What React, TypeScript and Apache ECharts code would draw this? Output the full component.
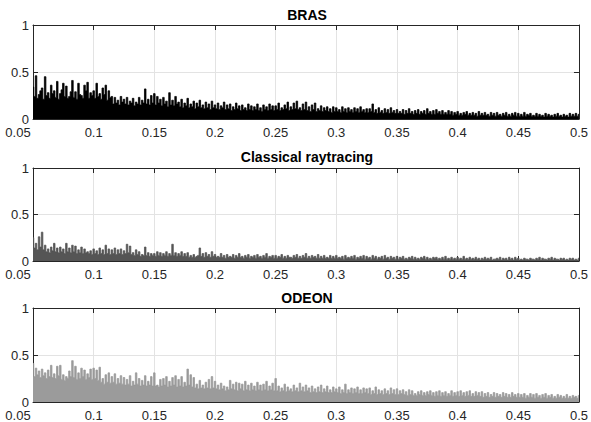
import React, { useEffect, useRef } from "react";
import * as echarts from "echarts";

const T0 = 0.05;
const DT = 0.00125;
const X_MIN = 0.05;
const X_MAX = 0.5;
const X_STEP = 0.05;
const Y_MIN = 0;
const Y_MAX = 1;
const Y_STEP = 0.5;

const titles = ["BRAS", "Classical raytracing", "ODEON"];
const colors = ["#000000", "#555555", "#9b9b9b"];

const brasValues = [
  0.34, 0.24, 0.46, 0.22, 0.26, 0.30, 0.33, 0.21, 0.45, 0.25, 0.28, 0.22, 0.36, 0.27, 0.30, 0.23, 0.40, 0.21, 0.27, 0.31,
  0.38, 0.24, 0.35, 0.22, 0.24, 0.29, 0.41, 0.23, 0.29, 0.21, 0.38, 0.26, 0.25, 0.22, 0.36, 0.30, 0.39, 0.22, 0.28, 0.25,
  0.30, 0.22, 0.38, 0.24, 0.27, 0.21, 0.33, 0.26, 0.36, 0.20, 0.30, 0.23, 0.24, 0.16, 0.23, 0.17, 0.20, 0.15, 0.24, 0.18,
  0.21, 0.16, 0.23, 0.15, 0.19, 0.17, 0.22, 0.14, 0.18, 0.16, 0.23, 0.15, 0.20, 0.17, 0.32, 0.16, 0.21, 0.15, 0.25, 0.17,
  0.27, 0.15, 0.24, 0.17, 0.21, 0.14, 0.23, 0.16, 0.19, 0.13, 0.28, 0.15, 0.20, 0.14, 0.24, 0.16, 0.18, 0.13, 0.21, 0.12,
  0.17, 0.14, 0.22, 0.12, 0.16, 0.13, 0.19, 0.11, 0.17, 0.13, 0.20, 0.12, 0.15, 0.11, 0.18, 0.12, 0.16, 0.10, 0.19, 0.12,
  0.15, 0.11, 0.17, 0.10, 0.14, 0.12, 0.18, 0.10, 0.15, 0.11, 0.16, 0.09, 0.13, 0.10, 0.17, 0.11, 0.14, 0.09, 0.15, 0.10,
  0.12, 0.09, 0.16, 0.10, 0.14, 0.09, 0.13, 0.10, 0.16, 0.09, 0.12, 0.08, 0.15, 0.10, 0.13, 0.09, 0.16, 0.10, 0.14, 0.09,
  0.14, 0.10, 0.17, 0.09, 0.12, 0.10, 0.15, 0.11, 0.18, 0.09, 0.13, 0.10, 0.17, 0.11, 0.19, 0.10, 0.12, 0.09, 0.16, 0.10,
  0.18, 0.09, 0.13, 0.08, 0.15, 0.10, 0.17, 0.08, 0.11, 0.09, 0.14, 0.08, 0.12, 0.09, 0.13, 0.08, 0.11, 0.07, 0.13, 0.08,
  0.12, 0.08, 0.10, 0.07, 0.13, 0.08, 0.11, 0.07, 0.12, 0.08, 0.10, 0.07, 0.12, 0.08, 0.11, 0.07, 0.13, 0.08, 0.10, 0.07,
  0.11, 0.07, 0.11, 0.08, 0.16, 0.07, 0.10, 0.06, 0.12, 0.07, 0.09, 0.06, 0.11, 0.07, 0.10, 0.06, 0.12, 0.07, 0.09, 0.06,
  0.10, 0.06, 0.08, 0.06, 0.10, 0.05, 0.09, 0.06, 0.11, 0.06, 0.08, 0.05, 0.09, 0.06, 0.10, 0.05, 0.08, 0.06, 0.09, 0.05,
  0.11, 0.06, 0.08, 0.05, 0.09, 0.05, 0.10, 0.06, 0.08, 0.05, 0.09, 0.05, 0.07, 0.05, 0.09, 0.05, 0.08, 0.04, 0.07, 0.05,
  0.08, 0.04, 0.06, 0.04, 0.07, 0.05, 0.08, 0.04, 0.06, 0.04, 0.07, 0.04, 0.06, 0.03, 0.08, 0.04, 0.06, 0.04, 0.07, 0.04,
  0.05, 0.03, 0.07, 0.04, 0.06, 0.03, 0.07, 0.04, 0.05, 0.03, 0.06, 0.04, 0.07, 0.03, 0.05, 0.03, 0.06, 0.04, 0.07, 0.03,
  0.06, 0.03, 0.05, 0.03, 0.07, 0.03, 0.05, 0.04, 0.06, 0.03, 0.04, 0.03, 0.06, 0.03, 0.05, 0.03, 0.04, 0.02, 0.06, 0.03,
  0.05, 0.03, 0.04, 0.02, 0.05, 0.03, 0.06, 0.03, 0.04, 0.02, 0.05, 0.03, 0.04, 0.02, 0.06, 0.03, 0.05, 0.03, 0.06, 0.03,
  0.05,
];

const classicalValues = [
  0.25, 0.14, 0.19, 0.12, 0.26, 0.15, 0.31, 0.12, 0.17, 0.10, 0.13, 0.09, 0.15, 0.11, 0.19, 0.10, 0.14, 0.09, 0.15, 0.10,
  0.13, 0.08, 0.19, 0.10, 0.14, 0.09, 0.17, 0.10, 0.16, 0.08, 0.12, 0.09, 0.15, 0.08, 0.13, 0.09, 0.10, 0.08, 0.11, 0.07,
  0.13, 0.08, 0.11, 0.07, 0.14, 0.08, 0.12, 0.07, 0.17, 0.08, 0.13, 0.07, 0.12, 0.08, 0.14, 0.07, 0.12, 0.08, 0.13, 0.07,
  0.11, 0.08, 0.18, 0.09, 0.16, 0.07, 0.09, 0.06, 0.12, 0.07, 0.10, 0.05, 0.07, 0.06, 0.15, 0.06, 0.09, 0.05, 0.08, 0.06,
  0.08, 0.05, 0.10, 0.06, 0.09, 0.05, 0.08, 0.06, 0.10, 0.05, 0.08, 0.06, 0.18, 0.06, 0.09, 0.05, 0.08, 0.06, 0.10, 0.05,
  0.08, 0.05, 0.09, 0.04, 0.06, 0.04, 0.07, 0.04, 0.05, 0.06, 0.14, 0.05, 0.08, 0.04, 0.09, 0.05, 0.07, 0.04, 0.10, 0.05,
  0.07, 0.04, 0.05, 0.04, 0.08, 0.04, 0.06, 0.03, 0.07, 0.04, 0.05, 0.04, 0.07, 0.03, 0.06, 0.04, 0.08, 0.04, 0.05, 0.03,
  0.06, 0.04, 0.07, 0.03, 0.05, 0.04, 0.06, 0.03, 0.07, 0.04, 0.05, 0.03, 0.06, 0.04, 0.08, 0.03, 0.05, 0.04, 0.06, 0.03,
  0.06, 0.03, 0.05, 0.04, 0.07, 0.03, 0.05, 0.03, 0.06, 0.04, 0.04, 0.03, 0.06, 0.04, 0.07, 0.03, 0.05, 0.03, 0.06, 0.04,
  0.08, 0.03, 0.05, 0.03, 0.06, 0.04, 0.05, 0.03, 0.07, 0.03, 0.05, 0.03, 0.06, 0.03, 0.04, 0.03, 0.06, 0.03, 0.05, 0.03,
  0.06, 0.03, 0.04, 0.03, 0.05, 0.02, 0.06, 0.03, 0.04, 0.03, 0.05, 0.03, 0.06, 0.02, 0.04, 0.03, 0.05, 0.03, 0.06, 0.02,
  0.05, 0.03, 0.04, 0.02, 0.06, 0.03, 0.05, 0.02, 0.04, 0.03, 0.05, 0.02, 0.06, 0.03, 0.04, 0.02, 0.05, 0.03, 0.04, 0.02,
  0.05, 0.02, 0.04, 0.03, 0.05, 0.02, 0.03, 0.02, 0.04, 0.03, 0.05, 0.02, 0.04, 0.02, 0.03, 0.02, 0.04, 0.03, 0.05, 0.02,
  0.04, 0.02, 0.03, 0.02, 0.04, 0.03, 0.04, 0.02, 0.03, 0.02, 0.04, 0.02, 0.05, 0.02, 0.03, 0.02, 0.04, 0.02, 0.03, 0.02,
  0.04, 0.02, 0.03, 0.02, 0.05, 0.02, 0.03, 0.02, 0.04, 0.02, 0.03, 0.02, 0.04, 0.02, 0.03, 0.01, 0.03, 0.02, 0.04, 0.02,
  0.03, 0.02, 0.04, 0.01, 0.02, 0.02, 0.03, 0.02, 0.04, 0.01, 0.03, 0.02, 0.03, 0.01, 0.04, 0.02, 0.03, 0.01, 0.04, 0.02,
  0.03, 0.01, 0.02, 0.01, 0.03, 0.02, 0.02, 0.01, 0.03, 0.02, 0.02, 0.01, 0.03, 0.02, 0.04, 0.01, 0.03, 0.02, 0.02, 0.01,
  0.03, 0.02, 0.04, 0.01, 0.03, 0.02, 0.02, 0.01, 0.03, 0.02, 0.03, 0.01, 0.02, 0.01, 0.03, 0.02, 0.03, 0.01, 0.02, 0.01,
  0.03,
];

const odeonValues = [
  0.41, 0.27, 0.36, 0.29, 0.33, 0.26, 0.35, 0.28, 0.31, 0.25, 0.34, 0.27, 0.39, 0.26, 0.30, 0.25, 0.38, 0.28, 0.39, 0.24,
  0.29, 0.23, 0.27, 0.25, 0.33, 0.27, 0.44, 0.26, 0.38, 0.24, 0.31, 0.25, 0.36, 0.27, 0.34, 0.24, 0.30, 0.26, 0.35, 0.24,
  0.36, 0.25, 0.34, 0.23, 0.37, 0.21, 0.25, 0.19, 0.29, 0.21, 0.31, 0.20, 0.27, 0.21, 0.30, 0.19, 0.25, 0.20, 0.28, 0.19,
  0.26, 0.18, 0.24, 0.19, 0.28, 0.17, 0.22, 0.18, 0.31, 0.19, 0.25, 0.17, 0.23, 0.18, 0.28, 0.17, 0.22, 0.18, 0.27, 0.17,
  0.31, 0.17, 0.18, 0.16, 0.24, 0.17, 0.25, 0.18, 0.27, 0.16, 0.22, 0.17, 0.26, 0.18, 0.28, 0.16, 0.24, 0.17, 0.27, 0.16,
  0.21, 0.17, 0.35, 0.18, 0.29, 0.16, 0.26, 0.15, 0.19, 0.14, 0.23, 0.15, 0.18, 0.14, 0.21, 0.15, 0.24, 0.14, 0.27, 0.15,
  0.22, 0.14, 0.18, 0.13, 0.20, 0.14, 0.17, 0.12, 0.16, 0.13, 0.23, 0.14, 0.19, 0.13, 0.21, 0.12, 0.20, 0.14, 0.19, 0.12,
  0.22, 0.13, 0.18, 0.12, 0.20, 0.13, 0.17, 0.12, 0.21, 0.13, 0.18, 0.12, 0.19, 0.13, 0.22, 0.12, 0.17, 0.13, 0.20, 0.12,
  0.25, 0.12, 0.17, 0.11, 0.15, 0.12, 0.19, 0.11, 0.16, 0.12, 0.14, 0.11, 0.18, 0.12, 0.15, 0.11, 0.20, 0.12, 0.16, 0.11,
  0.18, 0.12, 0.15, 0.10, 0.17, 0.11, 0.14, 0.10, 0.16, 0.11, 0.18, 0.10, 0.14, 0.11, 0.17, 0.10, 0.13, 0.10, 0.16, 0.11,
  0.14, 0.10, 0.16, 0.09, 0.13, 0.10, 0.19, 0.09, 0.13, 0.10, 0.15, 0.09, 0.14, 0.10, 0.16, 0.09, 0.13, 0.09, 0.15, 0.10,
  0.14, 0.09, 0.15, 0.08, 0.12, 0.09, 0.16, 0.08, 0.13, 0.09, 0.12, 0.08, 0.14, 0.09, 0.12, 0.08, 0.15, 0.09, 0.13, 0.08,
  0.14, 0.08, 0.12, 0.09, 0.13, 0.08, 0.11, 0.07, 0.13, 0.08, 0.12, 0.07, 0.09, 0.07, 0.11, 0.08, 0.12, 0.07, 0.10, 0.07,
  0.11, 0.08, 0.12, 0.07, 0.10, 0.06, 0.11, 0.07, 0.12, 0.06, 0.10, 0.07, 0.11, 0.06, 0.09, 0.07, 0.12, 0.06, 0.10, 0.07,
  0.11, 0.06, 0.12, 0.07, 0.10, 0.06, 0.11, 0.07, 0.12, 0.06, 0.09, 0.06, 0.11, 0.07, 0.10, 0.06, 0.11, 0.05, 0.09, 0.06,
  0.10, 0.05, 0.08, 0.06, 0.10, 0.05, 0.09, 0.06, 0.08, 0.05, 0.10, 0.06, 0.09, 0.05, 0.08, 0.05, 0.10, 0.06, 0.08, 0.05,
  0.09, 0.05, 0.08, 0.05, 0.09, 0.04, 0.07, 0.05, 0.09, 0.05, 0.08, 0.04, 0.09, 0.05, 0.07, 0.04, 0.08, 0.05, 0.09, 0.04,
  0.07, 0.05, 0.08, 0.04, 0.06, 0.04, 0.08, 0.05, 0.07, 0.04, 0.06, 0.04, 0.08, 0.04, 0.06, 0.04, 0.07, 0.05, 0.06, 0.04,
  0.07,
];

const seriesValues = [brasValues, classicalValues, odeonValues];

const GRID_LEFT = 33;
const GRID_RIGHT = 10;
const gridTops = [25, 168, 308];
const gridHeights = [94, 93, 94];
const titleYs = [15, 157, 298];

const TEXT = "#262626";
const FONT = "Liberation Sans, Arial, Helvetica, sans-serif";

export default function App() {
  const ref = useRef<HTMLDivElement>(null);

  useEffect(() => {
    if (!ref.current) return;
    const chart = echarts.init(ref.current, undefined, { renderer: "svg" });

    const grids: any[] = [];
    const xAxes: any[] = [];
    const yAxes: any[] = [];
    const series: any[] = [];
    const graphics: any[] = [];

    for (let g = 0; g < 3; g++) {
      grids.push({
        left: GRID_LEFT,
        right: GRID_RIGHT,
        top: gridTops[g],
        height: gridHeights[g],
        show: false,
      });
      const lineStyle = { color: TEXT, width: 1 };
      xAxes.push({
        type: "value",
        gridIndex: g,
        min: X_MIN,
        max: X_MAX,
        interval: X_STEP,
        position: "bottom",
        axisLine: { show: true, onZero: false, lineStyle },
        axisTick: { show: true, inside: true, length: 5, lineStyle },
        axisLabel: {
          color: TEXT,
          fontSize: 13,
          fontFamily: FONT,
          margin: 7,
          formatter: (v: number) => {
            const s = String(Math.round(v * 100) / 100);
            return Math.abs(v - X_MIN) < 1e-9 ? `{first|${s}}` : s;
          },
          rich: {
            first: {
              color: TEXT,
              fontSize: 13,
              fontFamily: FONT,
              padding: [0, 30, 0, 0],
            },
          },
        },
        splitLine: { show: true, lineStyle: { color: "#e3e3e3", width: 1 } },
      });
      xAxes.push({
        type: "value",
        gridIndex: g,
        min: X_MIN,
        max: X_MAX,
        interval: X_STEP,
        position: "top",
        axisLine: { show: true, onZero: false, lineStyle },
        axisTick: { show: true, inside: true, length: 5, lineStyle },
        axisLabel: { show: false },
        splitLine: { show: false },
      });
      yAxes.push({
        type: "value",
        gridIndex: g,
        min: Y_MIN,
        max: Y_MAX,
        interval: Y_STEP,
        position: "left",
        axisLine: { show: true, onZero: false, lineStyle },
        axisTick: { show: true, inside: true, length: 5, lineStyle },
        axisLabel: { color: TEXT, fontSize: 13, fontFamily: FONT, margin: 4 },
        splitLine: { show: true, lineStyle: { color: "#e3e3e3", width: 1 } },
      });
      yAxes.push({
        type: "value",
        gridIndex: g,
        min: Y_MIN,
        max: Y_MAX,
        interval: Y_STEP,
        position: "right",
        axisLine: { show: true, onZero: false, lineStyle },
        axisTick: { show: true, inside: true, length: 5, lineStyle },
        axisLabel: { show: false },
        splitLine: { show: false },
      });

      const vals = seriesValues[g];
      series.push({
        type: "line",
        xAxisIndex: g * 2,
        yAxisIndex: g * 2,
        step: "middle",
        symbol: "none",
        clip: true,
        lineStyle: { color: colors[g], width: 0.8 },
        areaStyle: { color: colors[g], opacity: 1 },
        data: vals.map((v, i) => [T0 + i * DT, v]),
        z: 1,
      });

      graphics.push({
        type: "text",
        x: GRID_LEFT + (591 - GRID_LEFT - GRID_RIGHT) / 2,
        y: titleYs[g],
        style: {
          text: titles[g],
          fill: "#000",
          font: `bold 14px ${FONT}`,
          textAlign: "center",
          textVerticalAlign: "middle",
        },
      });
    }

    chart.setOption({
      animation: false,
      backgroundColor: "#ffffff",
      grid: grids,
      xAxis: xAxes,
      yAxis: yAxes,
      series,
      graphic: graphics,
    });

    return () => chart.dispose();
  }, []);

  return (
    <div
      ref={ref}
      style={{ position: "fixed", left: 0, top: 0, width: 591, height: 422 }}
    />
  );
}
